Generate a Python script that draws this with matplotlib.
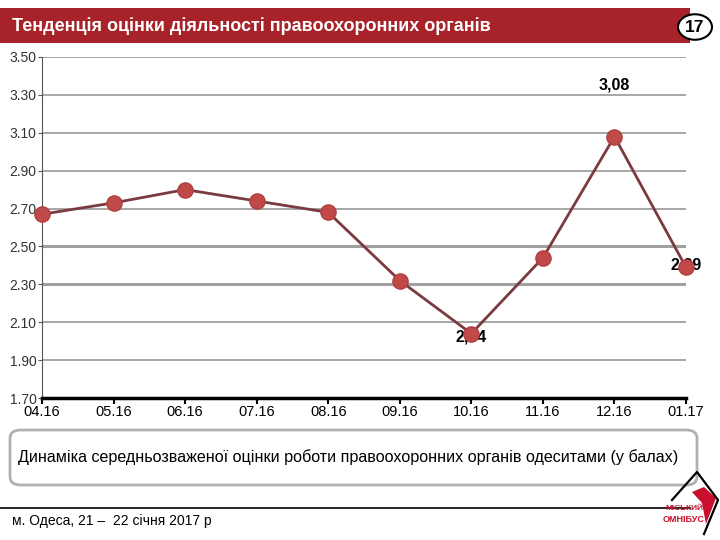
import numpy as np
import matplotlib.pyplot as plt
from matplotlib.patches import FancyBboxPatch, Circle, Polygon, Rectangle

plt.rcParams['font.family'] = ['Liberation Sans', 'DejaVu Sans']

months = ['04.16', '05.16', '06.16', '07.16', '08.16', '09.16', '10.16', '11.16', '12.16', '01.17']
scores = [2.67, 2.73, 2.80, 2.74, 2.68, 2.32, 2.04, 2.44, 3.08, 2.39]
yticks = [1.70, 1.90, 2.10, 2.30, 2.50, 2.70, 2.90, 3.10, 3.30, 3.50]

fig = plt.figure(figsize=(7.2, 5.4), dpi=100)
W, H = 720, 540

def fx(px):
    return px / W

def fy(py):
    return 1 - py / H

# red header band
fig.patches.append(Rectangle((0, fy(43)), fx(690), 35 / H, transform=fig.transFigure,
                             facecolor='#a82329', edgecolor='none'))
fig.text(fx(12), fy(26), 'Тенденція оцінки діяльності правоохоронних органів',
         color='white', fontsize=13, fontweight='bold', va='center', ha='left')
fig.patches.append(Circle((fx(695), fy(27)), 17 / W, transform=fig.transFigure,
                          facecolor='white', edgecolor='black', lw=1.5))
fig.text(fx(695), fy(27), '17', fontsize=12.5, fontweight='bold', ha='center', va='center')

ax = fig.add_axes([fx(42), fy(398), fx(686) - fx(42), fy(57) - fy(398)])
x = np.arange(len(months))
ax.plot(x, scores, color='#7a3a40', lw=2, zorder=3, clip_on=False)
ax.scatter(x, scores, s=120, color='#c0494a', edgecolor='#b04040', zorder=4, clip_on=False)

ax.set_xlim(0, len(months) - 1)
ax.set_ylim(1.70, 3.50)
ax.set_yticks(yticks)
ax.set_yticklabels([f'{v:.2f}' for v in yticks], fontsize=10, color='#333333')
ax.set_xticks(x)
ax.set_xticklabels(months, fontsize=10.5)
for y in yticks[1:]:
    thick = 2.2 if y in (2.30, 2.50) else 1.3
    ax.axhline(y, color='#a0a0a0', lw=thick, zorder=1)

for s in ['top', 'right']:
    ax.spines[s].set_visible(False)
ax.spines['left'].set_color('#555555')
ax.spines['left'].set_linewidth(0.8)
ax.spines['bottom'].set_color('black')
ax.spines['bottom'].set_linewidth(2.5)
ax.tick_params(axis='y', length=3, pad=1, color='#555555')
ax.tick_params(axis='x', length=4, width=1.5, pad=1)

# value labels
ax.text(8, 3.35, '3,08', fontsize=11.5, fontweight='bold', ha='center', va='center')
ax.text(6, 2.02, '2,04', fontsize=11.5, fontweight='bold', ha='center', va='center')
ax.text(9, 2.40, '2,39', fontsize=11.5, fontweight='bold', ha='center', va='center')

# caption box
fig.patches.append(FancyBboxPatch((fx(10), fy(485)), fx(697) - fx(10), (485 - 430) / H,
                                  boxstyle='round,pad=0,rounding_size=0.015',
                                  transform=fig.transFigure, facecolor='white',
                                  edgecolor='#b0b0b0', lw=2))
fig.text(fx(18), fy(457), 'Динаміка середньозваженої оцінки роботи правоохоронних органів одеситами (у балах)',
         fontsize=11.6, ha='left', va='center')

# footer
fig.add_artist(plt.Line2D([0, fx(690)], [fy(508), fy(508)], color='black', lw=1.2,
                          transform=fig.transFigure))
fig.text(fx(12), fy(521), 'м. Одеса, 21 –  22 січня 2017 р', fontsize=10, ha='left', va='center')

# logo
fig.add_artist(plt.Line2D([fx(672), fx(697), fx(718), fx(704)],
                          [fy(500), fy(472), fy(500), fy(534)], color='black', lw=1.6,
                          transform=fig.transFigure))
fig.patches.append(Polygon([(fx(692), fy(492)), (fx(704), fy(487)), (fx(716), fy(498)),
                            (fx(706), fy(524)), (fx(702), fy(503))], closed=True,
                           transform=fig.transFigure, facecolor='#c8102e', edgecolor='none'))
fig.text(fx(684), fy(508), 'МІСЬКИЙ', fontsize=6, color='#c8102e', ha='center', va='center',
         fontweight='bold')
fig.text(fx(684), fy(519), 'ОМНІБУС', fontsize=6.5, color='#c8102e', ha='center', va='center',
         fontweight='bold')

fig.savefig('out.png', dpi=100)
